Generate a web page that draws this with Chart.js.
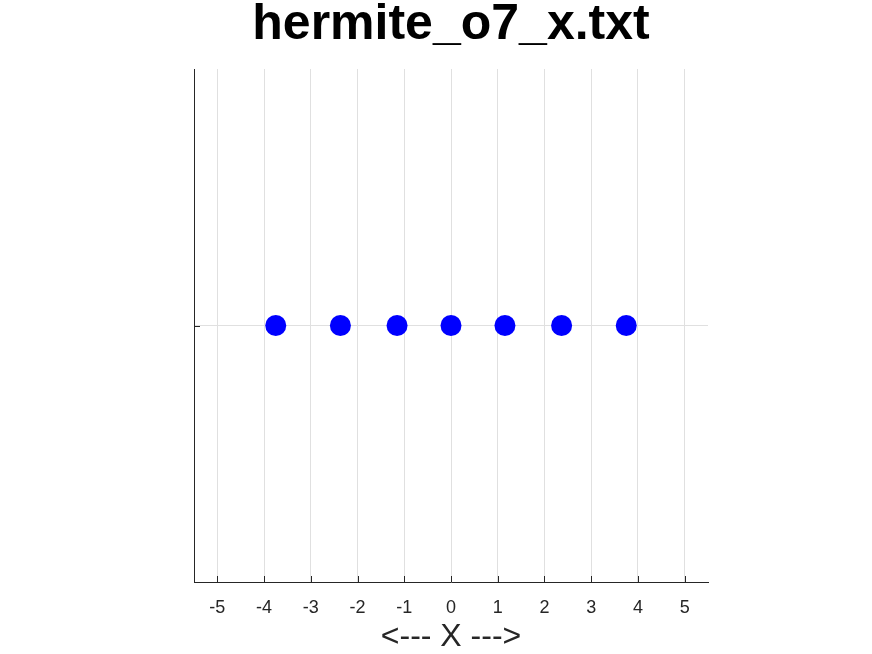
<!DOCTYPE html>
<html>
<head>
<meta charset="utf-8">
<script src="https://cdn.jsdelivr.net/npm/chart.js@4.4.0/dist/chart.umd.min.js"></script>
<style>
  html, body { margin: 0; padding: 0; background: #fff; }
  #wrap { width: 872px; height: 654px; }
</style>
</head>
<body>
<div id="wrap"><canvas id="chart" width="872" height="654"></canvas></div>
<script>
// Hermite order 7 abscissas
const xValues = [-3.7504, -2.3668, -1.1544, 0, 1.1544, 2.3668, 3.7504];
const yValues = [0, 0, 0, 0, 0, 0, 0];
const xTicks = [-5, -4, -3, -2, -1, 0, 1, 2, 3, 4, 5];
const yTicks = [0];

const axisColor = "#262626";
const gridColor = "#e0e0e0";

// small inward tick marks, like octave draws them
const innerTicks = {
  id: "innerTicks",
  afterDraw(chart) {
    const ctx = chart.ctx;
    const xs = chart.scales.x, ys = chart.scales.y;
    const area = chart.chartArea;
    ctx.save();
    ctx.strokeStyle = axisColor;
    ctx.lineWidth = 1;
    ctx.beginPath();
    xTicks.forEach(v => {
      const px = Math.round(xs.getPixelForValue(v)) + 0.5;
      ctx.moveTo(px, area.bottom);
      ctx.lineTo(px, area.bottom - 6);
    });
    yTicks.forEach(v => {
      const py = Math.round(ys.getPixelForValue(v)) + 0.5;
      ctx.moveTo(area.left, py);
      ctx.lineTo(area.left + 6, py);
    });
    ctx.stroke();
    ctx.restore();
  }
};

new Chart(document.getElementById("chart").getContext("2d"), {
  type: "scatter",
  data: {
    datasets: [{
      data: xValues.map((x, i) => ({ x: x, y: yValues[i] })),
      backgroundColor: "#0000ff",
      borderWidth: 0,
      pointRadius: 10.5,
      pointHoverRadius: 10.5
    }]
  },
  options: {
    responsive: false,
    animation: false,
    layout: { padding: { left: 194, right: 164, top: 0, bottom: 0 } },
    plugins: {
      legend: { display: false },
      tooltip: { enabled: false },
      title: {
        display: true,
        text: "hermite_o7_x.txt",
        color: "#000",
        font: { family: "Liberation Sans, Arial, sans-serif", size: 50, weight: "bold", lineHeight: 1 },
        padding: { top: 0, bottom: 19 }
      }
    },
    scales: {
      x: {
        type: "linear",
        min: -5.5,
        max: 5.5,
        afterBuildTicks: s => { s.ticks = xTicks.map(v => ({ value: v })); },
        afterFit: s => { s.height = 72; },
        ticks: {
          includeBounds: false,
          color: axisColor,
          padding: 15,
          font: { family: "Liberation Sans, Arial, sans-serif", size: 18 }
        },
        grid: { color: gridColor, drawTicks: false },
        border: { display: true, color: axisColor, width: 1 },
        title: {
          display: true,
          text: "<--- X --->",
          color: axisColor,
          font: { family: "Liberation Sans, Arial, sans-serif", size: 32, lineHeight: 1 },
          padding: { top: 0, bottom: 1 }
        }
      },
      y: {
        type: "linear",
        min: -1,
        max: 1,
        afterBuildTicks: s => { s.ticks = yTicks.map(v => ({ value: v })); },
        afterFit: s => { s.width = 0; },
        ticks: { display: false },
        grid: { color: gridColor, drawTicks: false },
        border: { display: true, color: axisColor, width: 1 }
      }
    }
  },
  plugins: [innerTicks]
});
</script>
</body>
</html>
